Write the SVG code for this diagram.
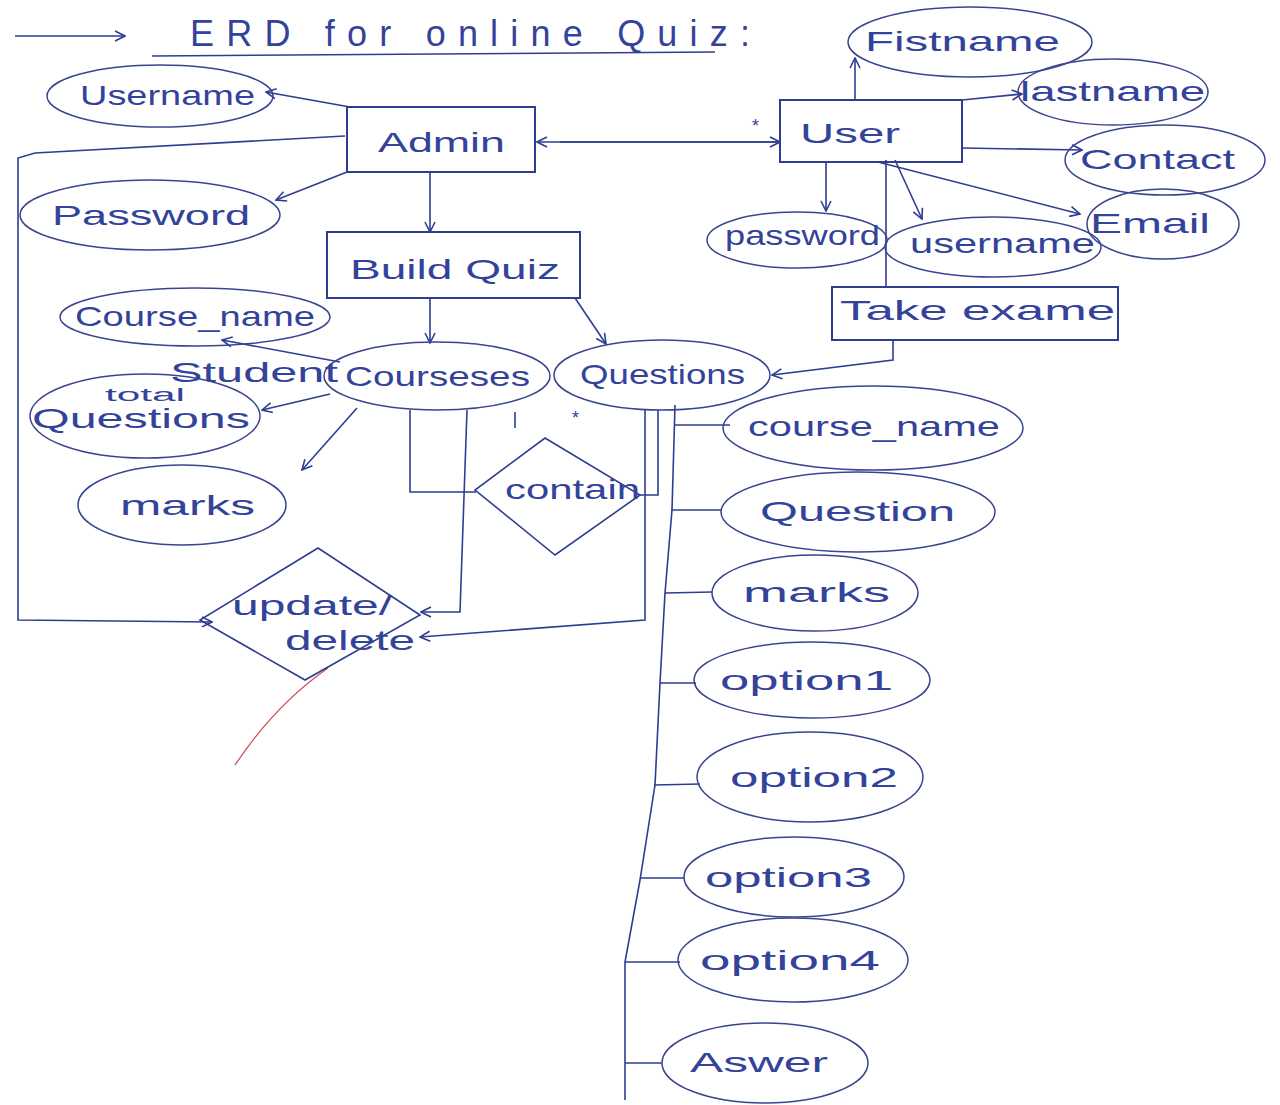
<svg xmlns="http://www.w3.org/2000/svg" width="1280" height="1105" viewBox="0 0 1280 1105">
<defs>
<marker id="ah" viewBox="0 0 12 12" refX="11" refY="6" markerWidth="12" markerHeight="12" markerUnits="userSpaceOnUse" orient="auto">
<path d="M1,1 L11,6 L1,11" fill="none" stroke="#2e3d92" stroke-width="1.6"/>
</marker>
</defs>
<style>
.bg{fill:#ffffff}
.ent{fill:none;stroke:#2e3d92;stroke-width:2}
.att{fill:none;stroke:#3a4590;stroke-width:1.5}
.rel{fill:none;stroke:#2e3d92;stroke-width:1.6}
.ln{fill:none;stroke:#2e3d92;stroke-width:1.6}
.arr{fill:none;stroke:#2e3d92;stroke-width:1.6;marker-end:url(#ah)}
text{font-family:"Liberation Sans","DejaVu Sans",sans-serif;fill:#34439a;font-size:28px}
.sm{font-size:18px}
.t{font-size:36px}
</style>
<rect class="bg" x="0" y="0" width="1280" height="1105"/>
<g id="title">
<line class="arr" x1="15" y1="36" x2="125" y2="36"/>
<text class="t" x="190" y="46" textLength="560" lengthAdjust="spacing">ERD for online Quiz:</text>
<line class="ln" x1="152" y1="56" x2="715" y2="52"/>
</g>
<g id="connectors">
<line class="arr" x1="350" y1="107" x2="266" y2="92"/>
<polyline class="arr" points="345,136 35,153 18,158 18,620 212,622"/>
<line class="arr" x1="347" y1="172" x2="276" y2="200"/>
<line class="arr" x1="430" y1="172" x2="430" y2="232"/>
<line class="arr" x1="780" y1="142" x2="537" y2="142"/>
<line class="arr" x1="560" y1="142" x2="780" y2="142"/>
<text class="sm" x="752" y="132">*</text>
<line class="arr" x1="855" y1="100" x2="855" y2="58"/>
<line class="arr" x1="962" y1="100" x2="1022" y2="94"/>
<line class="arr" x1="962" y1="148" x2="1082" y2="150"/>
<line class="arr" x1="878" y1="162" x2="1080" y2="214"/>
<line class="arr" x1="826" y1="162" x2="826" y2="211"/>
<line class="arr" x1="895" y1="160" x2="922" y2="219"/>
<line class="ln" x1="886" y1="160" x2="886" y2="287"/>
<polyline class="arr" points="893,340 893,360 772,375"/>
<line class="arr" x1="430" y1="298" x2="430" y2="343"/>
<line class="arr" x1="575" y1="298" x2="606" y2="344"/>
<line class="arr" x1="340" y1="362" x2="222" y2="340"/>
<line class="arr" x1="330" y1="394" x2="262" y2="410"/>
<line class="arr" x1="357" y1="408" x2="302" y2="470"/>
<polyline class="ln" points="410,410 410,492 476,492"/>
<polyline class="arr" points="467,410 460,612 421,612"/>
<line class="ln" x1="515" y1="412" x2="515" y2="428"/>
<text class="sm" x="572" y="424">*</text>
<polyline class="ln" points="658,410 658,495 640,495"/>
<polyline class="arr" points="645,410 645,620 420,637"/>
<polyline class="ln" points="675,405 672,510 665,593 660,683 655,785 640,880 625,962 625,1100"/>
<line class="ln" x1="675" y1="425" x2="730" y2="425"/>
<line class="ln" x1="671" y1="510" x2="722" y2="510"/>
<line class="ln" x1="665" y1="593" x2="712" y2="592"/>
<line class="ln" x1="660" y1="683" x2="696" y2="683"/>
<line class="ln" x1="654" y1="785" x2="700" y2="784"/>
<line class="ln" x1="640" y1="878" x2="684" y2="878"/>
<line class="ln" x1="625" y1="962" x2="680" y2="962"/>
<line class="ln" x1="625" y1="1063" x2="662" y2="1063"/>
<path d="M235,765 Q275,705 328,668" fill="none" stroke="#d0505a" stroke-width="1.3"/>
</g>
<g id="username-admin"><ellipse class="att" cx="160" cy="96" rx="113" ry="31"/><text x="80" y="105" textLength="175" lengthAdjust="spacingAndGlyphs">Username</text></g>
<g id="admin"><rect class="ent" x="347" y="107" width="188" height="65"/><text x="378" y="152" textLength="127" lengthAdjust="spacingAndGlyphs">Admin</text></g>
<g id="password-admin"><ellipse class="att" cx="150" cy="215" rx="130" ry="35"/><text x="52" y="225" textLength="198" lengthAdjust="spacingAndGlyphs">Password</text></g>
<g id="build-quiz"><rect class="ent" x="327" y="232" width="253" height="66"/><text x="350" y="279" textLength="210" lengthAdjust="spacingAndGlyphs">Build Quiz</text></g>
<g id="course-name-left"><ellipse class="att" cx="195" cy="317" rx="135" ry="29"/><text x="75" y="326" textLength="240" lengthAdjust="spacingAndGlyphs">Course_name</text></g>
<g id="student"><text x="170" y="382" textLength="168" lengthAdjust="spacingAndGlyphs">Student</text></g>
<g id="total-questions"><ellipse class="att" cx="145" cy="416" rx="115" ry="42"/><text class="sm" x="105" y="401" textLength="80" lengthAdjust="spacingAndGlyphs">total</text><text x="32" y="428" textLength="218" lengthAdjust="spacingAndGlyphs">Questions</text></g>
<g id="courseses"><ellipse class="att" cx="437" cy="376" rx="113" ry="34"/><text x="345" y="386" textLength="185" lengthAdjust="spacingAndGlyphs">Courseses</text></g>
<g id="questions"><ellipse class="att" cx="662" cy="375" rx="108" ry="35"/><text x="580" y="384" textLength="165" lengthAdjust="spacingAndGlyphs">Questions</text></g>
<g id="marks-left"><ellipse class="att" cx="182" cy="505" rx="104" ry="40"/><text x="120" y="515" textLength="135" lengthAdjust="spacingAndGlyphs">marks</text></g>
<g id="contain"><polygon class="rel" points="545,438 640,495 555,555 475,490"/><text x="505" y="499" textLength="135" lengthAdjust="spacingAndGlyphs">contain</text></g>
<g id="update-delete"><polygon class="rel" points="318,548 420,615 305,680 200,620"/><text x="232" y="615" textLength="160" lengthAdjust="spacingAndGlyphs">update/</text><text x="285" y="650" textLength="130" lengthAdjust="spacingAndGlyphs">delete</text></g>
<g id="fistname"><ellipse class="att" cx="970" cy="42" rx="122" ry="35"/><text x="865" y="51" textLength="195" lengthAdjust="spacingAndGlyphs">Fistname</text></g>
<g id="user"><rect class="ent" x="780" y="100" width="182" height="62"/><text x="800" y="143" textLength="100" lengthAdjust="spacingAndGlyphs">User</text></g>
<g id="lastname"><ellipse class="att" cx="1113" cy="92" rx="95" ry="33"/><text x="1020" y="101" textLength="185" lengthAdjust="spacingAndGlyphs">lastname</text></g>
<g id="contact"><ellipse class="att" cx="1165" cy="160" rx="100" ry="35"/><text x="1080" y="169" textLength="155" lengthAdjust="spacingAndGlyphs">Contact</text></g>
<g id="email"><ellipse class="att" cx="1163" cy="224" rx="76" ry="35"/><text x="1090" y="233" textLength="120" lengthAdjust="spacingAndGlyphs">Email</text></g>
<g id="password-user"><ellipse class="att" cx="797" cy="240" rx="90" ry="28"/><text x="725" y="245" textLength="155" lengthAdjust="spacingAndGlyphs">password</text></g>
<g id="username-user"><ellipse class="att" cx="993" cy="247" rx="108" ry="30"/><text x="910" y="253" textLength="185" lengthAdjust="spacingAndGlyphs">username</text></g>
<g id="take-exame"><rect class="ent" x="832" y="287" width="286" height="53"/><text x="840" y="320" textLength="275" lengthAdjust="spacingAndGlyphs">Take exame</text></g>
<g id="course-name-right"><ellipse class="att" cx="873" cy="428" rx="150" ry="42"/><text x="748" y="436" textLength="252" lengthAdjust="spacingAndGlyphs">course_name</text></g>
<g id="question"><ellipse class="att" cx="858" cy="512" rx="137" ry="40"/><text x="760" y="521" textLength="195" lengthAdjust="spacingAndGlyphs">Question</text></g>
<g id="marks-right"><ellipse class="att" cx="815" cy="593" rx="103" ry="38"/><text x="743" y="602" textLength="147" lengthAdjust="spacingAndGlyphs">marks</text></g>
<g id="option1"><ellipse class="att" cx="812" cy="680" rx="118" ry="38"/><text x="720" y="690" textLength="173" lengthAdjust="spacingAndGlyphs">option1</text></g>
<g id="option2"><ellipse class="att" cx="810" cy="777" rx="113" ry="45"/><text x="730" y="787" textLength="168" lengthAdjust="spacingAndGlyphs">option2</text></g>
<g id="option3"><ellipse class="att" cx="794" cy="877" rx="110" ry="40"/><text x="705" y="887" textLength="167" lengthAdjust="spacingAndGlyphs">option3</text></g>
<g id="option4"><ellipse class="att" cx="793" cy="960" rx="115" ry="42"/><text x="700" y="970" textLength="180" lengthAdjust="spacingAndGlyphs">option4</text></g>
<g id="aswer"><ellipse class="att" cx="765" cy="1063" rx="103" ry="40"/><text x="690" y="1072" textLength="138" lengthAdjust="spacingAndGlyphs">Aswer</text></g>
</svg>
